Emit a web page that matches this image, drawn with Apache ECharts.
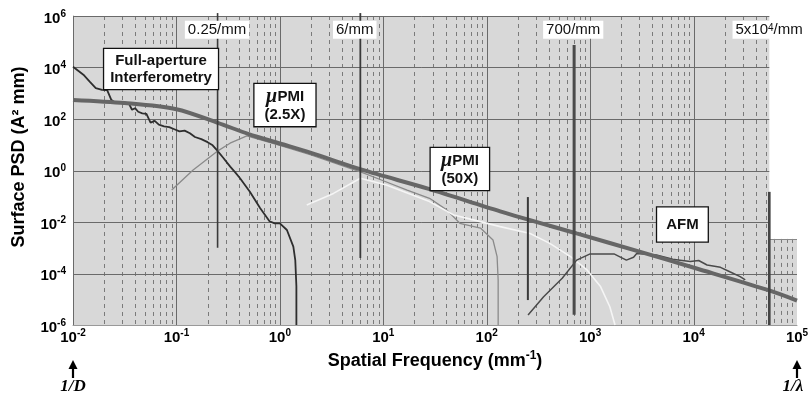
<!DOCTYPE html>
<html><head><meta charset="utf-8">
<script src="https://cdn.jsdelivr.net/npm/echarts@6/dist/echarts.min.js"></script>
<style>html,body{margin:0;padding:0;background:#fff}#c{width:812px;height:393px}</style>
</head><body><div id="c"></div>
<script>
// ---------- data ----------
const xTicks = [0.01, 0.1, 1, 10, 100, 1000, 10000, 100000];
const yTicks = [1e-6, 1e-4, 1e-2, 1, 1e2, 1e4, 1e6];
const minorMult = [2, 3, 4, 5, 6, 7, 8, 9];
const grayEnd = 54000;       // end of the shaded chart area
const extTop = 2.2e-3;       // top of the small shaded step on the right

// Specification (thick) PSD
const specLine = [[0.01,550],[0.0316,417],[0.1,240],[0.251,71],[0.5,26],[1,11.2],[2,4.8],[6.3,1.05],
  [28,0.19],[135,0.026],[740,0.0036],[3000,7.1e-4],[10500,1.6e-4],[52000,2.3e-5],[100000,8.9e-6]];
// Full-aperture interferometry
const fullAperture = [[0.01,10700],[0.0126,5250],[0.0145,2820],[0.0166,1580],[0.0191,1350],[0.0214,1320],
  [0.0234,562],[0.0251,447],[0.0282,457],[0.0316,380],[0.0347,398],[0.0372,229],[0.0398,263],[0.0427,191],
  [0.0468,166],[0.0513,158],[0.0562,72],[0.0617,85],[0.0676,60],[0.0759,52],[0.0851,48],[0.0955,40],
  [0.107,33],[0.12,35.5],[0.135,28],[0.151,20],[0.174,16.6],[0.2,12.6],[0.224,9.5],[0.245,6.3],
  [0.282,3.2],[0.331,1.41],[0.372,0.83],[0.412,0.5],[0.513,0.15],[0.646,0.034],[0.794,0.0107],
  [0.891,0.0089],[1.0,0.0089],[1.17,0.0049],[1.35,0.0011],[1.41,3.2e-4],[1.445,3.2e-5],[1.445,1e-6]];
// µPMI 2.5X
const pmi25 = [[0.09,0.174],[0.145,1.05],[0.245,5.4],[0.33,11.5],[0.48,22],[1.0,9.5],[2.0,4.0],[6.3,0.83],
  [10,0.4],[17,0.174],[28,0.083],[41,0.0295],[55,0.0089],[87,0.0058],[115,0.002],[126,4.5e-4],[129,5.6e-5],[129,1e-6]];
// µPMI 50X
const pmi50 = [[1.82,0.046],[3.3,0.129],[6.0,0.5],[10.7,0.275],[28,0.062],[48,0.0186],[65,0.0138],
  [135,0.0066],[263,0.0036],[407,0.00148],[646,4.5e-4],[933,1.38e-4],[1260,3.1e-5],[1550,5.1e-6],[1740,1e-6]];
// AFM
const afm = [[251,2.45e-6],[355,1.26e-5],[537,6.5e-5],[741,3.3e-4],[1000,5.75e-4],[1700,5.75e-4],[2240,3.3e-4],
  [2630,4.3e-4],[2820,6.0e-4],[4370,5.25e-4],[6300,3.55e-4],[7400,3.3e-4],[9300,2.9e-4],[11200,3.2e-4],
  [13500,2.14e-4],[18200,1.74e-4],[22400,1.17e-4],[28200,7.6e-5],[31600,5.6e-5]];

// vertical marker lines
const markerFreq = [0.25, 6, 700, 250, 54000];
const markerLow  = [1e-3, 4e-4, 2.5e-6, 9.3e-6, 1e-6];
const markerHigh = [1.3e6, 1.3e6, 7.4e4, 0.093, 0.148];

// top labels
const topLabelText = ['0.25/mm', '6/mm', '700/mm', '5x10{s|4}/mm'];
const topLabelFreq = [0.247, 5.3, 686, 53800];
const topLabelPsd = 2.9e5;

// boxed annotations
const boxText = ['Full-aperture\nInterferometry', '{mu|µ}PMI\n(2.5X)', '{mu|µ}PMI\n(50X)', 'AFM'];
const boxFreq = [0.071, 1.12, 55, 7800];
const boxPsd = [8700, 347, 1.15, 0.008];

// ---------- rendering ----------
const FF = '"Liberation Sans", Arial, sans-serif';
const chart = echarts.init(document.getElementById('c'), null, {renderer: 'canvas'});
const r5 = v => Math.round(v) + 0.5;

function powLabel(v) {
  const e = Math.round(Math.log10(v));
  return '{b|10}{s|' + (e < 0 ? '-' + (-e) : e) + '}';
}
const tickRich = {
  b: {fontFamily: FF, fontWeight: 'bold', fontSize: 15, color: '#000', lineHeight: 19},
  s: {fontFamily: FF, fontWeight: 'bold', fontSize: 10, color: '#000', lineHeight: 10, verticalAlign: 'top'}
};

function bgRender(params, api) {
  const ch = [];
  const p = (x, y) => api.coord([x, y]);
  const tl = p(0.01, 1e6), br = p(grayEnd, 1e-6);
  ch.push({type: 'rect', shape: {x: tl[0], y: tl[1], width: br[0] - tl[0], height: br[1] - tl[1]}, style: {fill: '#d8d8d8'}});
  const et = p(grayEnd, extTop), eb = p(1e5, 1e-6);
  ch.push({type: 'rect', shape: {x: et[0], y: et[1], width: eb[0] - et[0], height: eb[1] - et[1]}, style: {fill: '#d8d8d8'}});
  // minor dashed verticals
  for (let k = 0; k < xTicks.length - 1; k++) {
    minorMult.forEach(m => {
      const v = m * xTicks[k];
      let top = null;
      if (v <= grayEnd) top = 1e6; else if (v < 1e5) top = extTop;
      if (top === null) return;
      const a = p(v, top), b = p(v, 1e-6);
      ch.push({type: 'line', shape: {x1: r5(a[0]), y1: a[1], x2: r5(a[0]), y2: b[1]},
        style: {stroke: '#7a7a7a', lineWidth: 1, lineDash: [4, 4]}});
    });
  }
  // major verticals
  xTicks.forEach(v => {
    if (v > grayEnd) return;
    const a = p(v, 1e6), b = p(v, 1e-6);
    ch.push({type: 'line', shape: {x1: r5(a[0]), y1: a[1], x2: r5(a[0]), y2: b[1]}, style: {stroke: '#6a6a6a', lineWidth: 1}});
  });
  // horizontals
  yTicks.forEach(v => {
    if (v <= 1e-6) return;
    const end = v <= extTop ? 1e5 : grayEnd;
    const a = p(0.01, v), b = p(end, v);
    ch.push({type: 'line', shape: {x1: a[0], y1: r5(a[1]), x2: b[0], y2: r5(a[1])}, style: {stroke: '#6a6a6a', lineWidth: 1}});
  });
  ch.push({type: 'line', shape: {x1: et[0], y1: r5(et[1]), x2: eb[0], y2: r5(et[1])}, style: {stroke: '#888', lineWidth: 1}});
  return {type: 'group', children: ch};
}

function markerRender(params, api) {
  const widths = [1.6, 1.8, 3, 2, 2.6];
  const cols = ['#3a3a3a', '#3a3a3a', '#4a4a4a', '#3a3a3a', '#444'];
  const ch = markerFreq.map((f, i) => {
    const a = api.coord([f, markerHigh[i]]), b = api.coord([f, markerLow[i]]);
    return {type: 'line', shape: {x1: a[0], y1: a[1], x2: b[0], y2: b[1]}, style: {stroke: cols[i], lineWidth: widths[i]}};
  });
  return {type: 'group', children: ch};
}

function labelRender(params, api) {
  const ch = [];
  topLabelText.forEach((t, i) => {
    const c = api.coord([topLabelFreq[i], topLabelPsd]);
    ch.push({type: 'text', x: c[0], y: c[1], style: {text: t, font: '15px ' + FF, fill: '#111', align: 'center', verticalAlign: 'middle',
      backgroundColor: '#fff', padding: [2, 3, 1, 3],
      rich: {s: {font: '10px ' + FF, fill: '#111', verticalAlign: 'top', lineHeight: 9}}}});
  });
  const pads = [[3, 6, 3, 6], [3, 10, 3, 10], [3, 10, 3, 10], [9, 9, 8, 9]];
  boxText.forEach((t, i) => {
    const c = api.coord([boxFreq[i], boxPsd[i]]);
    ch.push({type: 'text', x: c[0], y: c[1], style: {text: t, font: 'bold 15px ' + FF, fill: '#111', align: 'center', verticalAlign: 'middle',
      lineHeight: 17, backgroundColor: '#fff', borderColor: '#111', borderWidth: 1.3, padding: pads[i],
      rich: {mu: {font: 'italic bold 20px "Liberation Serif", serif', fill: '#111', lineHeight: 19}}}});
  });
  // arrows under the x axis ends
  [[0.01, '1/D', 0], [1e5, '1/λ', -4]].forEach(([f, t, dx]) => {
    const c = api.coord([f, 1e-6]);
    ch.push({type: 'line', shape: {x1: c[0], y1: c[1] + 41, x2: c[0], y2: c[1] + 53}, style: {stroke: '#000', lineWidth: 2.2}});
    ch.push({type: 'polygon', shape: {points: [[c[0], c[1] + 35], [c[0] - 4.5, c[1] + 44], [c[0] + 4.5, c[1] + 44]]}, style: {fill: '#000'}});
    ch.push({type: 'text', x: c[0] + dx, y: c[1] + 62, style: {text: t, font: 'italic bold 17px "Liberation Serif", serif', fill: '#000', align: 'center', verticalAlign: 'middle'}});
  });
  return {type: 'group', children: ch};
}

const lineS = (name, data, color, width, z, smooth) => ({
  name, type: 'line', data, showSymbol: false, symbol: 'none', z, smooth: smooth || false,
  lineStyle: {color, width}, silent: true, clip: true
});

chart.setOption({
  animation: false,
  backgroundColor: '#fff',
  grid: {left: 73, right: 15, top: 16, bottom: 68},
  xAxis: {
    type: 'log', min: 0.01, max: 1e5, logBase: 10, interval: 1,
    axisLine: {lineStyle: {color: '#999', width: 1}}, axisTick: {show: false},
    splitLine: {show: false},
    axisLabel: {formatter: powLabel, rich: tickRich, margin: 3},
    name: '{a|Spatial Frequency (mm}{s|-1}{a|)}', nameLocation: 'middle', nameGap: 21,
    nameTextStyle: {rich: {
      a: {fontFamily: FF, fontWeight: 'bold', fontSize: 18, color: '#000', lineHeight: 22},
      s: {fontFamily: FF, fontWeight: 'bold', fontSize: 12, color: '#000', lineHeight: 12, verticalAlign: 'top'}}}
  },
  yAxis: {
    type: 'log', min: 1e-6, max: 1e6, logBase: 10, interval: 2,
    axisLine: {show: true, lineStyle: {color: '#999', width: 1}}, axisTick: {show: false},
    splitLine: {show: false},
    axisLabel: {formatter: powLabel, rich: tickRich, margin: 7, padding: [5, 0, 0, 0]}
  },
  graphic: [{
    type: 'text', x: 19, y: 157, rotation: Math.PI / 2,
    style: {text: 'Surface PSD (A² mm)', font: 'bold 18px ' + FF, fill: '#000', align: 'center', verticalAlign: 'middle'}
  }],
  series: [
    {type: 'custom', coordinateSystem: 'cartesian2d', renderItem: bgRender, data: [[1, 1]], z: 1, silent: true, clip: false},
    lineS('Full-aperture', fullAperture, '#2e2e2e', 1.8, 3),
    lineS('µPMI 2.5X', pmi25, '#8a8a8a', 1.3, 3),
    lineS('µPMI 50X', pmi50, '#f5f5f5', 1.6, 3),
    lineS('AFM', afm, '#4a4a4a', 1.5, 3),
    lineS('Spec', specLine, '#666', 4, 4, 0.3),
    {type: 'custom', coordinateSystem: 'cartesian2d', renderItem: markerRender, data: [[1, 1]], z: 5, silent: true, clip: false},
    {type: 'custom', coordinateSystem: 'cartesian2d', renderItem: labelRender, data: [[1, 1]], z: 6, silent: true, clip: false}
  ]
});
</script></body></html>
